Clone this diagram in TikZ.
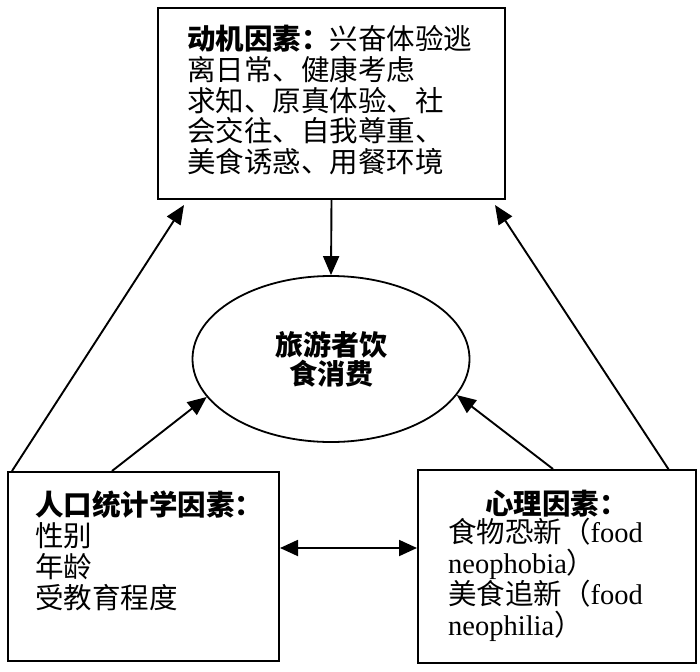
\documentclass[tikz,border=0pt]{standalone}
\usepackage{fontspec}
\setmainfont{Liberation Serif}
\newfontfamily\cjk{Noto Sans CJK SC}
\usetikzlibrary{arrows.meta,calc,shapes.geometric}
\tikzset{
  box/.style={draw,line width=2pt,rectangle,inner sep=0pt,anchor=north west},
  txt/.style={inner sep=0pt,anchor=north west,align=left,font=\cjk\fontsize{28.5}{30.8}\selectfont},
  arr/.style={line width=1.9pt,-{Triangle[length=19pt,width=16pt]}},
  dblarr/.style={line width=1.9pt,{Triangle[length=18pt,width=16pt]}-{Triangle[length=18pt,width=16pt]}}
}
\begin{document}
\begin{tikzpicture}[x=1pt,y=-1pt]
\useasboundingbox[fill=white] (0,0) rectangle (700,671);
% boxes
\node[box,minimum width=347pt,minimum height=191pt] (top) at (157,7) {};
\node[box,minimum width=271pt,minimum height=189pt] (lbox) at (7,471) {};
\node[box,minimum width=278pt,minimum height=193pt] (rbox) at (417,469) {};
\node[draw,line width=1.8pt,ellipse,minimum width=277pt,minimum height=166pt,inner sep=0pt,align=center,
      font=\cjk\bfseries\fontsize{28}{29}\selectfont] (ell) at (331,359) {旅游者饮\\食消费};
% texts
\node[txt] (ttop) at (187,25) {{\bfseries 动机因素：}兴奋体验逃\\离日常、健康考虑\\求知、原真体验、社\\会交往、自我尊重、\\美食诱惑、用餐环境};
\node[txt] (tleft) at (35,491) {{\bfseries 人口统计学因素：}\\性别\\年龄\\受教育程度};
\node[txt] (trtitle) at (485,490) {\bfseries 心理因素：};
\node[txt] (tright) at (448,518) {食物恐新（{\rmfamily food}\\{\rmfamily neophobia}）\\美食追新（{\rmfamily food}\\{\rmfamily neophilia}）};
% connectors
\coordinate (dy) at (0,548);
\draw[arr] (top.south) -- (ell.north);
\draw[arr] ($(lbox.north west)+(5,0)$) -- ($(top.south west)+(27,5)$);
\draw[arr] ($(rbox.north east)+(-28,1)$) -- ($(top.south east)+(-11,5)$);
\draw[arr] ($(lbox.north west)+(105,0)$) -- (ell.197);
\draw[arr] ($(rbox.north west)+(136,0)$) -- (ell.344);
\draw[dblarr] (lbox.east |- dy) -- (rbox.west |- dy);
\end{tikzpicture}
\end{document}
